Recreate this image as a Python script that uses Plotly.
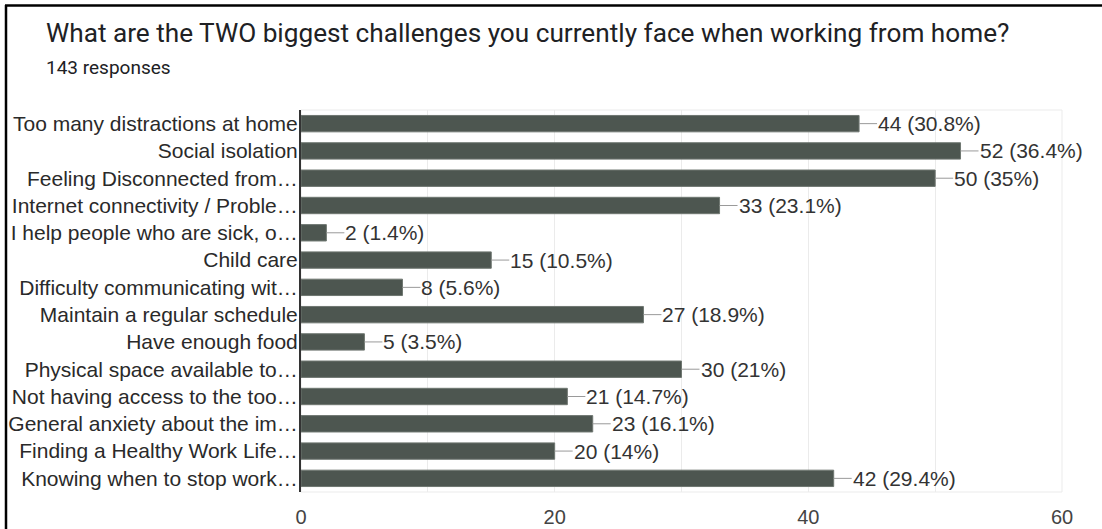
import plotly.graph_objects as go

title = "What are the TWO biggest challenges you currently face when working from home?"
total_responses = 143

categories = [
    "Too many distractions at home",
    "Social isolation",
    "Feeling Disconnected from…",
    "Internet connectivity / Proble…",
    "I help people who are sick, o…",
    "Child care",
    "Difficulty communicating wit…",
    "Maintain a regular schedule",
    "Have enough food",
    "Physical space available to…",
    "Not having access to the too…",
    "General anxiety about the im…",
    "Finding a Healthy Work Life…",
    "Knowing when to stop work…",
]
counts = [44, 52, 50, 33, 2, 15, 8, 27, 5, 30, 21, 23, 20, 42]
x_ticks = [0, 20, 40, 60]

BAR = "#4d5650"
FONT = "Liberation Sans, Arial, sans-serif"

W, H = 1102, 529
ML, MR, MT, MB = 301, 40, 110, 37
PW, PH = W - ML - MR, H - MT - MB


def px(x):
    return (x - ML) / PW


def py(y):
    return (H - MB - y) / PH


def value_label(v):
    pct = round(v / total_responses * 100, 1)
    return f"{v} ({pct:g}%)"


fig = go.Figure(
    go.Bar(
        x=counts,
        y=categories,
        orientation="h",
        marker=dict(color=BAR, line=dict(color="#6f7771", width=1)),
        hoverinfo="skip",
    )
)

# value labels with short leader lines from the bar end
for cat, v in zip(categories, counts):
    fig.add_annotation(
        x=v, y=cat, xref="x", yref="y",
        text=value_label(v),
        showarrow=True, arrowhead=0, arrowwidth=1, arrowcolor="#9a9a9a",
        ax=18, ay=0, xanchor="left", standoff=0, startstandoff=0,
        font=dict(family=FONT, size=21, color="#333333"),
        borderpad=0,
    )

fig.add_annotation(
    x=px(44), y=py(33), xref="paper", yref="paper", text=title, showarrow=False,
    xanchor="left", yanchor="middle",
    font=dict(family="Roboto, Arial, sans-serif", size=26.2, color="#202124"),
)
fig.add_annotation(
    x=px(44), y=py(67), xref="paper", yref="paper", text=f"{total_responses} responses",
    showarrow=False, xanchor="left", yanchor="middle",
    font=dict(family="Roboto, Arial, sans-serif", size=19, color="#202124"),
)

# frame lines along the top and left edges
fig.add_shape(type="line", xref="paper", yref="paper", x0=px(5), x1=px(W + 10),
              y0=py(5.5), y1=py(5.5), line=dict(color="#000", width=2.5))
fig.add_shape(type="line", xref="paper", yref="paper", x0=px(6), x1=px(6),
              y0=py(5), y1=py(H + 10), line=dict(color="#000", width=2.5))

fig.update_layout(
    width=W, height=H,
    margin=dict(l=ML, r=MR, t=MT, b=MB, autoexpand=False),
    paper_bgcolor="white", plot_bgcolor="white",
    showlegend=False,
    bargap=0.4,
    xaxis=dict(
        range=[0, 60], tickvals=x_ticks, showgrid=True, gridcolor="#ebebeb",
        minor=dict(dtick=10, showgrid=True, gridcolor="#ebebeb", tick0=0),
        zeroline=False, showline=False, ticks="", automargin=False,
        tickfont=dict(family=FONT, size=20, color="#444444"),
        ticklabelstandoff=11, fixedrange=True,
    ),
    yaxis=dict(
        autorange="reversed", showgrid=False, zeroline=False, automargin=False,
        showline=True, linecolor="#333333", linewidth=2, ticks="",
        tickfont=dict(family=FONT, size=21, color="#2a2a2a"),
        ticklabelstandoff=-3, fixedrange=True,
    ),
    font=dict(family=FONT),
)

# light border around the plotting area
fig.add_shape(type="rect", xref="paper", yref="paper", x0=0, x1=1, y0=0, y1=1,
              line=dict(color="#ebebeb", width=1), layer="below")

fig.write_html("out.html")
